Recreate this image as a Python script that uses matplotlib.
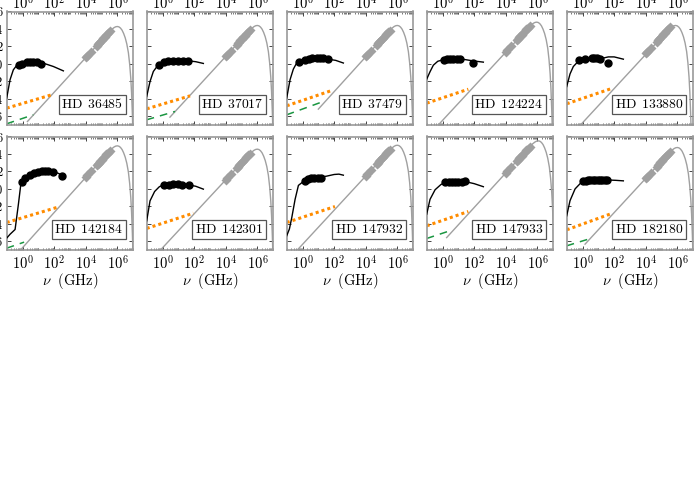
import numpy as np
import matplotlib
matplotlib.use('Agg')
import matplotlib.pyplot as plt
from matplotlib.ticker import FixedLocator, FuncFormatter, NullFormatter
from matplotlib.patches import Rectangle

plt.rcParams['mathtext.fontset'] = 'cm'
plt.rcParams['font.family'] = ['DejaVu Serif']

stars = ['HD 36485', 'HD 37017', 'HD 37479', 'HD 124224', 'HD 133880',
         'HD 142184', 'HD 142301', 'HD 147932', 'HD 147933', 'HD 182180']

# black model curve (log nu [GHz], log S)
curve_x = [
    [-1, -0.79, -0.58, -0.37, -0.16, 0.2, 0.47, 0.9, 1.32, 1.95, 2.58],
    [-1, -0.79, -0.58, -0.37, -0.2, 0.09, 0.5, 1.0, 1.63, 2.1, 2.58],
    [-1, -0.79, -0.58, -0.4, -0.22, 0.16, 0.47, 0.89, 1.32, 1.63, 2.1, 2.58],
    [-1, -0.79, -0.58, -0.3, 0.09, 0.5, 1.0, 1.4, 1.9, 2.58],
    [-1, -0.79, -0.58, -0.22, 0.16, 0.68, 1.15, 1.63, 2.0, 2.58],
    [-1, -0.79, -0.47, -0.26, -0.12, -0.05, 0.16, 0.47, 0.75, 1.2, 1.63, 1.95, 2.3, 2.58],
    [-1, -0.79, -0.5, -0.2, 0.09, 0.5, 1.0, 1.63, 2.1, 2.58],
    [-1, -0.83, -0.68, -0.47, -0.26, 0.16, 0.5, 1.0, 1.5, 2.0, 2.3, 2.58],
    [-1, -0.79, -0.47, -0.1, 0.16, 0.6, 1.0, 1.42, 2.0, 2.58],
    [-1, -0.79, -0.47, -0.1, 0.05, 0.5, 1.0, 1.6, 2.1, 2.58],
]
curve_y = [
    [-3.92, -1.82, -0.68, -0.18, 0.0, 0.18, 0.27, 0.2, 0.08, -0.3, -0.8],
    [-3.73, -2.02, -0.87, -0.35, -0.1, 0.25, 0.33, 0.35, 0.35, 0.25, 0.05],
    [-3.92, -1.82, -0.6, 0.0, 0.2, 0.47, 0.62, 0.66, 0.62, 0.54, 0.4, 0.1],
    [-1.75, -0.9, -0.15, 0.3, 0.5, 0.56, 0.56, 0.5, 0.35, 0.2],
    [-2.6, -1.15, -0.3, 0.39, 0.58, 0.66, 0.6, 0.8, 0.8, 0.54],
    [-5.64, -5.2, -4.65, -1.75, 0.35, 0.81, 1.2, 1.6, 1.84, 2.03, 2.07, 2.0, 1.75, 1.45],
    [-3.66, -1.37, -0.3, 0.25, 0.47, 0.55, 0.53, 0.47, 0.3, -0.03],
    [-5.37, -4.6, -3.3, -1.2, 0.4, 1.0, 1.2, 1.33, 1.45, 1.65, 1.69, 1.57],
    [-2.9, -1.2, -0.1, 0.5, 0.73, 0.82, 0.84, 0.84, 0.6, 0.25],
    [-3.08, -1.35, 0.0, 0.7, 0.85, 0.98, 1.02, 1.02, 0.98, 0.92],
]

# black measured points
dot_x = [
    [-0.22, -0.01, 0.3, 0.47, 0.68, 0.89, 1.15],
    [-0.2, 0.09, 0.37, 0.68, 0.95, 1.3, 1.63],
    [-0.22, 0.16, 0.4, 0.6, 0.89, 1.1, 1.32, 1.63],
    [0.09, 0.3, 0.5, 0.68, 0.9, 1.1, 1.95],
    [-0.22, 0.16, 0.6, 0.75, 0.9, 1.1, 1.63],
    [-0.05, 0.16, 0.47, 0.75, 1.0, 1.21, 1.42, 1.63, 1.95, 2.47],
    [0.09, 0.43, 0.68, 0.95, 1.21, 1.68],
    [0.16, 0.35, 0.55, 0.75, 0.95, 1.15],
    [0.16, 0.4, 0.6, 0.8, 1.0, 1.2, 1.42],
    [0.05, 0.2, 0.35, 0.5, 0.65, 0.8, 0.95, 1.1, 1.25, 1.4, 1.55],
]
dot_y = [
    [-0.15, 0.0, 0.2, 0.27, 0.22, 0.16, 0.02],
    [-0.18, 0.27, 0.32, 0.33, 0.35, 0.35, 0.33],
    [0.16, 0.47, 0.58, 0.64, 0.66, 0.65, 0.62, 0.54],
    [0.47, 0.54, 0.56, 0.56, 0.54, 0.52, 0.12],
    [0.39, 0.54, 0.66, 0.68, 0.66, 0.54, 0.08],
    [0.81, 1.19, 1.61, 1.84, 1.95, 2.03, 2.07, 2.07, 1.99, 1.5],
    [0.47, 0.5, 0.52, 0.53, 0.5, 0.47],
    [0.95, 1.1, 1.2, 1.25, 1.3, 1.3],
    [0.75, 0.8, 0.82, 0.84, 0.84, 0.84, 0.85],
    [0.85, 0.95, 0.98, 1.0, 1.0, 1.02, 1.02, 1.02, 1.02, 1.0, 1.0],
]

# gray stellar photosphere curve: start point, peak and shape around the peak
gray_start_x = [0.31, 0.47, 1.0, -0.32, -0.18, -0.18, -0.18, -0.38, 0.26, 0.16]
gray_start_y = [-6.6, -6.1, -5.18, -7.1, -7.1, -7.1, -7.1, -7.1, -5.58, -6.33]
gray_peak_x = [5.99, 5.99, 5.99, 5.95, 5.88, 5.99, 5.99, 5.99, 6.05, 5.99]
gray_peak_y = [4.28, 4.4, 4.4, 4.78, 4.4, 4.93, 4.55, 5.0, 5.5, 4.74]
peak_dx = [-0.5, -0.35, -0.2, -0.1, 0.0, 0.1, 0.2, 0.3, 0.4, 0.5, 0.6, 0.7, 0.78,
           0.85, 0.9, 0.95, 1.0]
peak_dy = [-0.6, -0.33, -0.12, -0.03, 0.0, -0.04, -0.18, -0.42, -0.8, -1.3, -2.0,
           -3.0, -4.3, -5.9, -7.6, -10.0, -13.0]

# gray photometric points (diamonds)
diam_x = [4.02, 4.1, 4.33, 4.68, 4.76, 4.84, 4.92, 5.0, 5.1, 5.2, 5.3, 5.4, 5.5]
diam_y = [
    [0.75, 0.91, 1.37, 2.07, 2.23, 2.39, 2.55, 2.71, 2.91, 3.11, 3.31, 3.51, 3.71],
    [0.89, 1.05, 1.51, 2.21, 2.37, 2.53, 2.69, 2.85, 3.05, 3.25, 3.45, 3.65, 3.85],
    [0.86, 1.02, 1.48, 2.18, 2.34, 2.5, 2.66, 2.82, 3.02, 3.22, 3.42, 3.62, 3.82],
    [1.39, 1.55, 2.01, 2.71, 2.87, 3.03, 3.19, 3.35, 3.55, 3.75, 3.95, 4.15, 4.35],
    [1.21, 1.37, 1.83, 2.53, 2.69, 2.85, 3.01, 3.17, 3.37, 3.57, 3.77, 3.97, 4.17],
    [1.38, 1.54, 2.0, 2.7, 2.86, 3.02, 3.18, 3.34, 3.54, 3.74, 3.94, 4.14, 4.34],
    [1.07, 1.23, 1.69, 2.39, 2.55, 2.71, 2.87, 3.03, 3.23, 3.43, 3.63, 3.83, 4.03],
    [1.53, 1.69, 2.15, 2.85, 3.01, 3.17, 3.33, 3.49, 3.69, 3.89, 4.09, 4.29, 4.49],
    [1.86, 2.02, 2.48, 3.18, 3.34, 3.5, 3.66, 3.82, 4.02, 4.22, 4.42, 4.62, 4.82],
    [1.24, 1.4, 1.86, 2.56, 2.72, 2.88, 3.04, 3.2, 3.4, 3.6, 3.8, 4.0, 4.2],
]

# orange dotted component
orange_x = [[-1, 1.84], [-1, 1.74], [-1, 1.84], [-1, 1.63], [-1, 1.9],
            [-1, 2.16], [-1, 1.95], [-1, 2.05], [-1, 1.63], [-1, 1.9]]
orange_y = [[-5.07, -3.54], [-5.15, -3.66], [-4.8, -3.05], [-4.5, -2.9], [-4.57, -2.78],
            [-3.85, -2.13], [-4.53, -2.78], [-3.85, -2.02], [-4.23, -2.59], [-4.69, -2.78]]

# green dashed component (absent in some stars)
green_x = [[-1, 0.68], [-1, 0.79], [-1, 1.32], [], [],
           [-1, 0.1], [], [], [-1, 0.58], [-1, 0.58]]
green_y = [[-6.86, -5.83], [-6.4, -5.45], [-5.83, -4.3], [], [],
           [-6.79, -6.1], [], [], [-5.68, -4.73], [-6.52, -5.64]]

box_left = [0.41, 0.41, 0.41, 0.36, 0.36, 0.36, 0.36, 0.36, 0.36, 0.36]

xmajor = [0, 2, 4, 6]
yticks = [-6, -4, -2, 0, 2, 4, 6]

fig = plt.figure(figsize=(7, 5), dpi=100)
GRAY = '#a0a0a0'

minor_locs = []
for d in range(-1, 7):
    for k in range(1, 10):
        v = k * 10.0 ** d
        if d % 2 == 0 and k == 1:
            continue
        minor_locs.append(v)

for i, name in enumerate(stars):
    r, c = divmod(i, 5)
    ax = fig.add_axes([(6.7 + 140 * c) / 700, 0.75 - 0.25 * r, 126.6 / 700, 0.227])
    ax.set_xscale('log')
    ax.set_xlim(0.1, 1e7)
    ax.set_ylim(-7, 6)

    gx = np.r_[gray_start_x[i], gray_peak_x[i] + np.array(peak_dx)]
    gy = np.r_[gray_start_y[i], gray_peak_y[i] + np.array(peak_dy)]
    ax.plot(10 ** gx, gy, color=GRAY, lw=1.0, zorder=2)
    ax.plot(10 ** np.array(diam_x), diam_y[i], 'D', color=GRAY, ms=4.8, mec='none', zorder=3)

    ax.plot(10 ** np.array(orange_x[i]), orange_y[i], color='#ff8c00', lw=2.2,
            ls=(0, (1, 1)), zorder=2)
    if green_x[i]:
        ax.plot(10 ** np.array(green_x[i]), green_y[i], color='#1a9641', lw=1.1,
                ls=(0, (5, 4)), zorder=2)

    ax.plot(10 ** np.array(curve_x[i]), curve_y[i], color='k', lw=1.0, zorder=4)
    ax.plot(10 ** np.array(dot_x[i]), dot_y[i], 'o', color='k', ms=5.0, zorder=5)

    ax.add_patch(Rectangle((box_left[i], 0.10), 0.94 - box_left[i], 0.162,
                           transform=ax.transAxes, facecolor='white',
                           edgecolor='#555555', lw=0.9, zorder=6))
    num = name.split()[1]
    ax.text((box_left[i] + 0.94) / 2, 0.181, r'$\mathrm{HD\ \,%s}$' % num,
            transform=ax.transAxes, ha='center', va='center', fontsize=9.8, zorder=7)

    for s in ax.spines.values():
        s.set_color('#9a9a9a')
        s.set_linewidth(1.2)

    ax.xaxis.set_major_locator(FixedLocator([10.0 ** p for p in xmajor]))
    ax.xaxis.set_minor_locator(FixedLocator(minor_locs))
    ax.xaxis.set_minor_formatter(NullFormatter())
    ax.xaxis.set_major_formatter(FuncFormatter(lambda v, p: r'$10^{%d}$' % round(np.log10(v))))
    ax.yaxis.set_major_locator(FixedLocator(yticks))
    ax.yaxis.set_major_formatter(FuncFormatter(lambda v, p: r'$%d$' % v))
    ax.tick_params(which='major', direction='in', length=3, width=0.7, color='#444444',
                   top=True, bottom=True, left=True, right=True, labelsize=10.5, pad=2)
    ax.tick_params(axis='x', which='minor', direction='in', length=1.5, width=0.5,
                   color='#444444', top=True, bottom=True)
    ax.tick_params(axis='y', which='minor', left=False, right=False)
    if r == 0:
        ax.tick_params(axis='x', labeltop=True, labelbottom=False, pad=0)
    else:
        ax.tick_params(axis='x', labeltop=False, labelbottom=True, pad=3)
        ax.set_xlabel(r'$\nu\ \ \mathrm{(GHz)}$', fontsize=10.5, labelpad=-1)
    if c != 0:
        ax.tick_params(axis='y', labelleft=False)
    else:
        ax.tick_params(axis='y', labelleft=True, pad=2.5, labelsize=9)

fig.savefig('out.png', dpi=100)
